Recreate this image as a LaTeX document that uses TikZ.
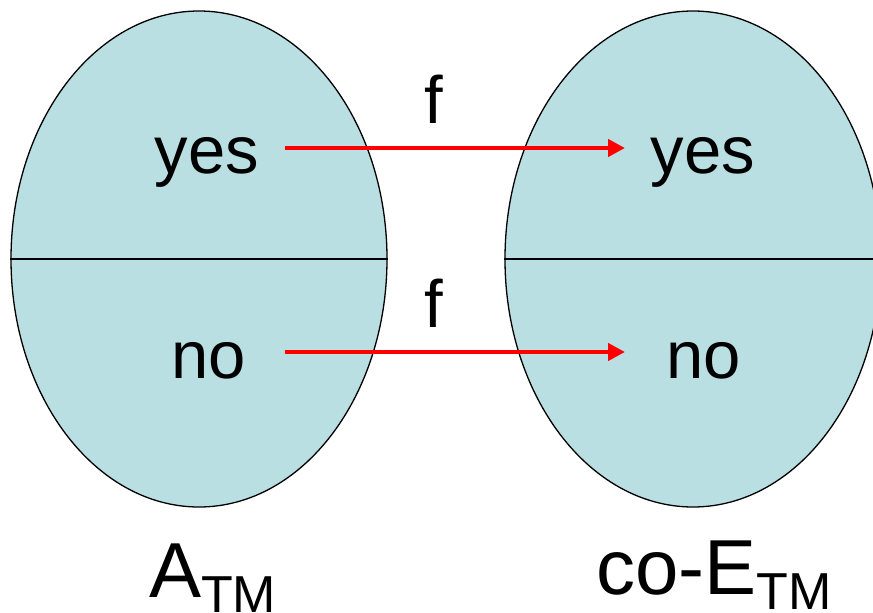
\documentclass[tikz,border=0pt]{standalone}
\usepackage{fontspec}
\setmainfont{Liberation Sans}
\usetikzlibrary{arrows.meta,shapes.geometric}
\definecolor{setfill}{RGB}{185,223,227}
\definecolor{mapred}{RGB}{255,0,0}
\tikzset{
  setshape/.style={ellipse, draw=black, line width=1.3pt, fill=setfill, minimum width=376pt, minimum height=496pt, inner sep=0pt},
  divider/.style={line width=1.8pt, draw=black},
  maparrow/.style={draw=mapred, line width=4.5pt, -{Triangle[length=17pt,width=17pt]}},
  word/.style={font=\fontsize{67}{67}\selectfont, inner sep=0pt, anchor=base},
  setlabel/.style={font=\fontsize{78}{78}\selectfont, inner sep=0pt, anchor=base west}
}
\newcommand{\subTM}{\raisebox{-15pt}{\fontsize{52}{52}\selectfont TM}}
\begin{document}
\begin{tikzpicture}[x=1pt,y=-1pt]
\useasboundingbox (0,0) rectangle (873,613);
\node[setshape] (L) at (199,259) {};
\node[setshape] (R) at (693,259) {};
\draw[divider] (L.west) -- (L.east);
\draw[divider] (R.west) -- (R.east);
\node[word] (ly) at (207,173) {yes};
\node[word] (ln) at (209,378) {no};
\node[word] (ry) at (703,173) {yes};
\node[word] (rn) at (704,378) {no};
\node[word] (f1) at (434,123) {f};
\node[word] (f2) at (434,327) {f};
\coordinate (a1s) at (284.5,148);
\coordinate (a1e) at (625,148);
\coordinate (a2s) at (284.5,352);
\coordinate (a2e) at (625,352);
\draw[maparrow] (a1s) -- (a1e);
\draw[maparrow] (a2s) -- (a2e);
\node[setlabel] (la) at (149,597) {A\subTM};
\node[setlabel] (lb) at (596,594) {co-E\subTM};
\end{tikzpicture}
\end{document}
